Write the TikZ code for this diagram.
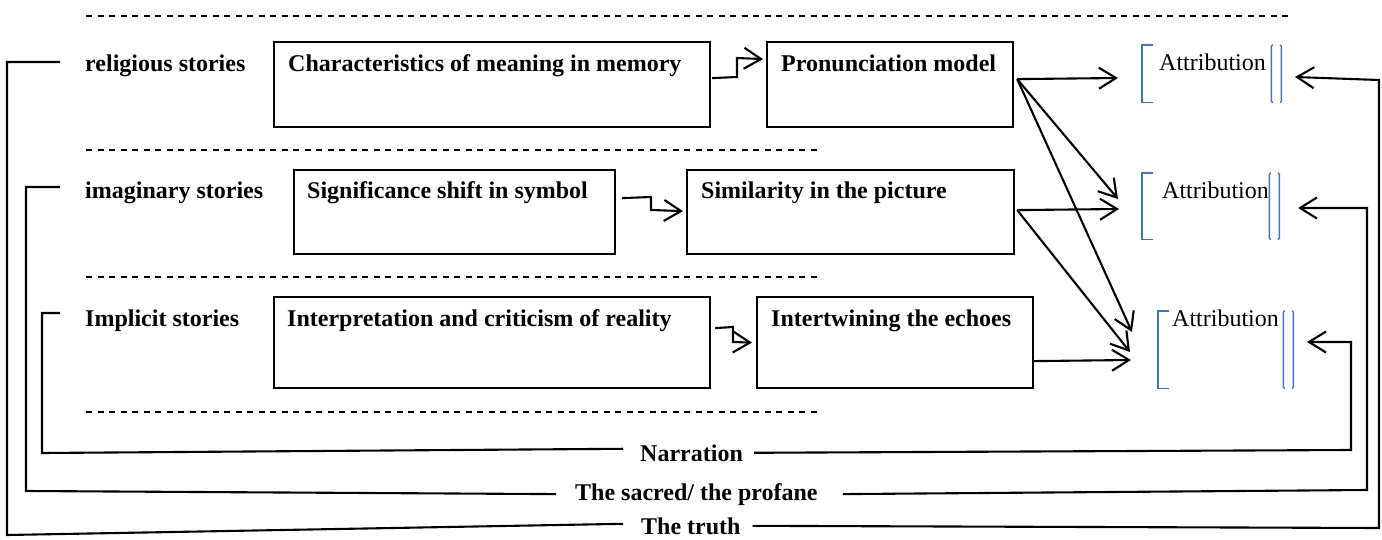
\documentclass[tikz,border=0pt]{standalone}
\usepackage{fontspec}
\setmainfont{Liberation Serif}
\usetikzlibrary{arrows.meta}
\definecolor{brblue}{RGB}{68,114,196}
\begin{document}
\begin{tikzpicture}[x=1pt,y=-1pt,
  box/.style={draw, line width=2.2pt, inner sep=0pt, anchor=north west},
  txt/.style={font=\fontsize{24}{28}\selectfont\bfseries, inner sep=0pt, anchor=base west},
  att/.style={font=\fontsize{24}{28}\selectfont, inner sep=0pt, anchor=base west},
  brk/.style={draw=brblue, line width=1.6pt},
  bar/.style={draw=brblue, line width=1.4pt, rounded corners=1.2pt},
  brnode/.style={inner sep=0pt, anchor=north west},
  arr/.style={line width=2.1pt, -{Straight Barb[length=17pt,width=21pt,line width=2.1pt]}},
  conn/.style={line width=2.1pt},
  dsh/.style={line width=1.1pt, dash pattern=on 6pt off 5.5pt}]
\useasboundingbox (0,0) rectangle (1382,540);

% dashed separators
\draw[dsh] (86,16) -- (1290,16);
\draw[dsh] (86,150) -- (820,150);
\draw[dsh] (86,277) -- (820,277);
\draw[dsh] (86,412) -- (820,412);

% row labels
\node[txt] (r1) at (85,72) {religious stories};
\node[txt] (r2) at (85,199) {imaginary stories};
\node[txt] (r3) at (85,326) {Implicit stories};

% boxes
\node[box, minimum width=436pt, minimum height=85pt] (box1) at (273,41) {};
\node[box, minimum width=246pt, minimum height=85pt] (box2) at (766,41) {};
\node[box, minimum width=321pt, minimum height=84pt] (box3) at (293,169) {};
\node[box, minimum width=327pt, minimum height=84pt] (box4) at (686,169) {};
\node[box, minimum width=436pt, minimum height=91pt] (box5) at (273,296) {};
\node[box, minimum width=276pt, minimum height=91pt] (box6) at (756,296) {};

\node[txt] (t1) at (288,72) {Characteristics of meaning in memory};
\node[txt] (t2) at (781,72) {Pronunciation model};
\node[txt] (t3) at (307,199) {Significance shift in symbol};
\node[txt] (t4) at (701,199) {Similarity in the picture};
\node[txt] (t5) at (287,326) {Interpretation and criticism of reality};
\node[txt] (t6) at (771,326) {Intertwining the echoes};

% elbow arrows between boxes
\draw[arr] ([xshift=1pt,yshift=6.5pt]box1.east) -- (737,77) -- (737,58) -- ([xshift=-3pt,yshift=25.5pt]box2.west);
\draw[arr] ([xshift=6pt,yshift=14pt]box3.east) -- (651,197) -- (651,210) -- ([xshift=-3pt,yshift=1pt]box4.west);
\draw[arr] ([xshift=4pt,yshift=14.5pt]box5.east) -- (733,327) -- (733,342) -- ([xshift=-4pt]box6.west);

% attribution brackets
\node[brnode, minimum width=139pt, minimum height=57pt] (b1) at (1142,45) {};
\node[brnode, minimum width=137pt, minimum height=66pt] (b2) at (1142,173) {};
\node[brnode, minimum width=135pt, minimum height=77pt] (b3) at (1158,311) {};
\node[att] (at1) at (1159,71) {Attribution};
\node[att] (at2) at (1162,199) {Attribution};
\node[att] (at3) at (1172,326) {Attribution};
\foreach \b in {b1,b2,b3}{
  \draw[brk] ([xshift=11pt]\b.north west) -- (\b.north west) -- (\b.south west) -- ([xshift=11pt]\b.south west);
  \draw[bar] ([xshift=-8.5pt]\b.north east) -- ([xshift=-10pt]\b.north east) -- ([xshift=-10pt]\b.south east) -- ([xshift=-8.5pt]\b.south east);
  \draw[bar] ([xshift=-1.5pt]\b.north east) -- (\b.north east) -- (\b.south east) -- ([xshift=-1.5pt]\b.south east);
}

% arrows from boxes to attributions
\coordinate (s2) at ([xshift=3pt,yshift=5.5pt]box2.east);
\coordinate (s4) at ([xshift=2pt,yshift=2pt]box4.east);
\coordinate (s6) at ([yshift=-18.5pt]box6.east);
\coordinate (e1a) at (1118,78);
\coordinate (e2a) at (1118,199);
\coordinate (e3a) at (1132,332);
\coordinate (e2b) at (1119,209);
\coordinate (e3b) at (1130,352);
\coordinate (e3c) at (1131,360);
\draw[arr] (s2) -- (e1a);
\draw[arr] (s2) -- (e2a);
\draw[arr] (s2) -- (e3a);
\draw[arr] (s4) -- (e2b);
\draw[arr] (s4) -- (e3b);
\draw[arr] (s6) -- (e3c);

% bottom labels
\node[txt] (nar) at (640,461) {Narration};
\node[txt] (sac) at (575,500) {The sacred/ the profane};
\node[txt] (tru) at (641,534) {The truth};

% return arrows to attributions
\coordinate (r1a) at (1295,77);
\coordinate (r2a) at (1298,208);
\coordinate (r3a) at (1307,342);
\draw[arr] ([xshift=11pt]nar.east) -- (1351,450) -- (1351,342) -- (r3a);
\draw[arr] ([xshift=25pt]sac.east) -- (1367,490) -- (1367,208) -- (r2a);
\draw[arr] ([xshift=12pt]tru.east) -- (1379,528) -- (1379,80) -- (r1a);

% left brackets to row labels
\draw[conn] ([xshift=-17pt,yshift=4pt]nar.west) -- (42,453) -- (42,313) -- (60,313);
\draw[conn] ([xshift=-19pt]sac.west) -- (26,491) -- (26,187) -- (60,187);
\draw[conn] ([xshift=-18pt,yshift=2pt]tru.west) -- (7,535) -- (7,62) -- (60,62);
\end{tikzpicture}
\end{document}
